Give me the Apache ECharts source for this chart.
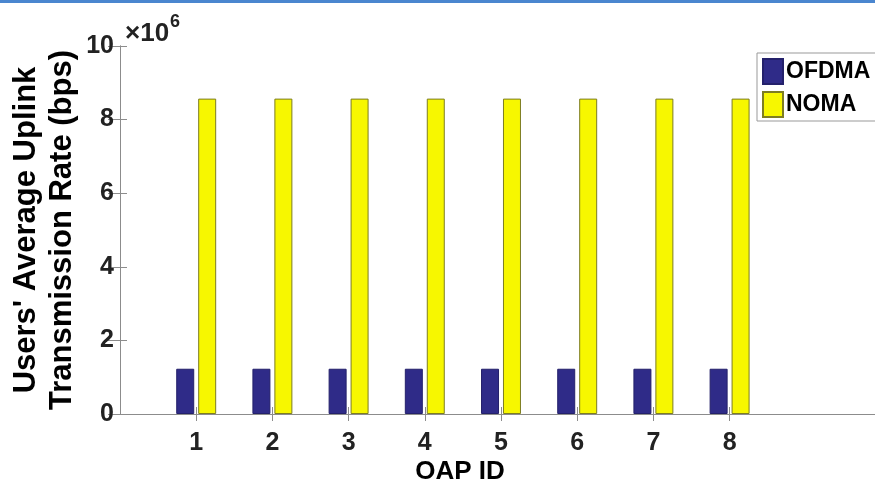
<!DOCTYPE html>
<html>
<head>
<meta charset="utf-8">
<script src="https://cdn.jsdelivr.net/npm/echarts@6/dist/echarts.min.js"></script>
<style>html,body{margin:0;padding:0;background:#fff}#c{width:875px;height:482px}</style>
</head>
<body>
<div id="c"></div>
<script>
var categories = [1, 2, 3, 4, 5, 6, 7, 8];
var ofdma = [1.23e6, 1.23e6, 1.23e6, 1.23e6, 1.23e6, 1.23e6, 1.23e6, 1.23e6];
var noma  = [8.57e6, 8.57e6, 8.57e6, 8.57e6, 8.57e6, 8.57e6, 8.57e6, 8.57e6];
var yTicks = [0, 2e6, 4e6, 6e6, 8e6, 10e6];

var FONT = 'Liberation Sans';
var AX = '#8c8c8c';

var chart = echarts.init(document.getElementById('c'), null, {renderer: 'canvas'});

function pairs(vals) { return categories.map(function (c, i) { return [c, vals[i]]; }); }

var xCommon = {
  type: 'value', min: 0, max: 10, interval: 1,
  axisLine: {show: true, lineStyle: {color: AX, width: 1}},
  axisTick: {show: true, inside: true, length: 7, lineStyle: {color: AX}, customValues: categories},
  splitLine: {show: false}
};

chart.setOption({
  animation: false,
  backgroundColor: '#fff',
  textStyle: {fontFamily: FONT},
  graphic: [{type: 'rect', shape: {x: 0, y: 0, width: 875, height: 3}, style: {fill: '#4a86cf'}, silent: true}],
  title: {
    left: 120, top: 8,
    text: '{a|×10}{b|6}',
    textStyle: {fontSize: 26, rich: {
      a: {fontFamily: FONT, fontSize: 26, color: '#222', verticalAlign: 'bottom', lineHeight: 34},
      b: {fontFamily: FONT, fontSize: 18, color: '#222', verticalAlign: 'top', lineHeight: 34, padding: [0, 0, 14, 1]}
    }}
  },
  legend: {
    orient: 'vertical', left: 757, top: 53,
    icon: 'rect', itemWidth: 20, itemHeight: 25, itemGap: 6,
    padding: [5, 20, 3, 5],
    borderColor: '#999', borderWidth: 1, backgroundColor: '#fff',
    textStyle: {fontFamily: FONT, fontSize: 23, fontWeight: 'bold', color: '#000', padding: [0, 0, 0, -2]},
    data: ['OFDMA', 'NOMA']
  },
  grid: {left: 120, right: -7, top: 46, bottom: 68, containLabel: false, outerBoundsMode: 'none'},
  xAxis: [
    Object.assign({}, xCommon, {
      position: 'bottom',
      name: 'OAP ID', nameLocation: 'middle', nameGap: 45, nameMoveOverlap: false,
      nameTextStyle: {fontFamily: FONT, fontSize: 26, fontWeight: 'bold', color: '#000', padding: [0, 82, 0, 0]},
      axisLabel: {show: true, customValues: categories, margin: 17, fontFamily: FONT, fontSize: 25, fontWeight: 'bold', color: '#222'}
    }),
    Object.assign({}, xCommon, {position: 'top', axisLabel: {show: false}})
  ],
  yAxis: [
    {
      type: 'value', min: 0, max: 10e6, interval: 2e6, position: 'left',
      name: "Users' Average Uplink\nTransmission Rate (bps)",
      nameLocation: 'middle', nameGap: 40, nameRotate: 90, nameMoveOverlap: false,
      nameTextStyle: {fontFamily: FONT, fontSize: 31, fontWeight: 'bold', color: '#000', lineHeight: 36},
      axisLine: {show: true, lineStyle: {color: AX}},
      axisTick: {show: true, inside: true, length: 7, lineStyle: {color: AX}},
      axisLabel: {margin: 6, fontFamily: FONT, fontSize: 25, fontWeight: 'bold', color: '#222',
        formatter: function (v) { return String(Math.round(v / 1e6)); }},
      splitLine: {show: false}
    },
    {
      type: 'value', min: 0, max: 10e6, interval: 2e6, position: 'right',
      axisLine: {show: true, lineStyle: {color: AX}},
      axisTick: {show: true, inside: true, length: 12, lineStyle: {color: AX}},
      axisLabel: {show: false}, splitLine: {show: false}
    }
  ],
  series: [
    {name: 'OFDMA', type: 'bar', xAxisIndex: 0, yAxisIndex: 0, barWidth: 18, barGap: '22%',
      itemStyle: {color: '#2f2b88', borderColor: '#24216b', borderWidth: 1}, data: pairs(ofdma)},
    {name: 'NOMA', type: 'bar', xAxisIndex: 0, yAxisIndex: 0, barWidth: 18, barGap: '22%',
      itemStyle: {color: '#f7f700', borderColor: '#7d7d22', borderWidth: 1}, data: pairs(noma)}
  ]
});
</script>
</body>
</html>
